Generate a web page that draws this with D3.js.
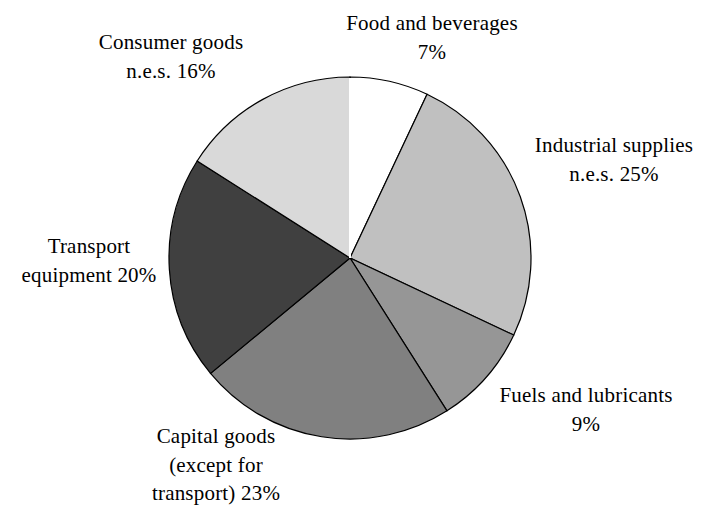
<!DOCTYPE html>
<html lang="en">

<head>
    <meta charset="UTF-8">
    <title>Imports by category</title>
    <style>
        body {
            margin: 0;
            background: #fff;
        }

        .label text {
            font-family: "Liberation Serif", "Times New Roman", serif;
            font-size: 21px;
            letter-spacing: 0.2px;
            fill: #000;
        }

        .slice {
            stroke: #000;
            stroke-width: 1.2px;
        }
    </style>
</head>

<body>
    <script src="https://d3js.org/d3.v7.min.js"></script>
    <script>
        // categories, clockwise from 12 o'clock
        var categories = ["Food and beverages", "Industrial supplies n.e.s.", "Fuels and lubricants",
            "Capital goods (except for transport)", "Transport equipment", "Consumer goods n.e.s."];
        var shares = [7, 25, 9, 23, 20, 16];
        var fills = ["#ffffff", "#c0c0c0", "#969696", "#808080", "#404040", "#d9d9d9"];

        // how each label wraps
        var labelLines = [
            ["Food and beverages", "7%"],
            ["Industrial supplies", "n.e.s. 25%"],
            ["Fuels and lubricants", "9%"],
            ["Capital goods", "(except for", "transport) 23%"],
            ["Transport", "equipment 20%"],
            ["Consumer goods", "n.e.s. 16%"]
        ];

        var width = 701,
            height = 506,
            cx = 350,
            cy = 258,
            radius = 181,
            lineH = 28.5;

        // label block centre (x) and first baseline (y)
        var labelAt = [[432, 30], [614, 152], [586, 402], [216, 443], [89, 253], [171, 49]];

        var svg = d3.select("body").append("svg")
            .attr("width", width)
            .attr("height", height);

        var g = svg.append("g")
            .attr("transform", "translate(" + cx + "," + cy + ")");

        var data = categories.map(function (c, i) {
            return { name: c, value: shares[i], fill: fills[i], lines: labelLines[i] };
        });

        var pie = d3.pie()
            .sort(null)
            .value(function (d) { return d.value; });

        var arc = d3.arc()
            .innerRadius(0)
            .outerRadius(radius);

        var arcs = pie(data);

        g.selectAll(".slice")
            .data(arcs)
            .enter().append("path")
            .attr("class", "slice")
            .attr("fill", function (d) { return d.data.fill; })
            .attr("d", arc);

        // the seam where the first slice starts is drawn white
        var a0 = arcs[0].startAngle;
        g.append("line")
            .attr("x1", 0).attr("y1", 0)
            .attr("x2", Math.sin(a0) * (radius - 1))
            .attr("y2", -Math.cos(a0) * (radius - 1))
            .attr("stroke", "#fff")
            .attr("stroke-width", 2);

        var labels = svg.selectAll(".label")
            .data(data)
            .enter().append("g")
            .attr("class", "label")
            .attr("transform", function (d, i) {
                return "translate(" + labelAt[i][0] + "," + labelAt[i][1] + ")";
            });

        labels.each(function (d) {
            var t = d3.select(this).append("text")
                .attr("text-anchor", "middle");
            d.lines.forEach(function (s, j) {
                t.append("tspan")
                    .attr("x", 0)
                    .attr("y", j * lineH)
                    .text(s);
            });
        });
    </script>
</body>

</html>
